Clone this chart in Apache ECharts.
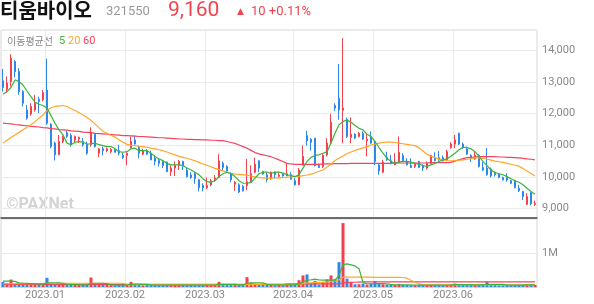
<!DOCTYPE html>
<html><head><meta charset="utf-8">
<script src="https://cdn.jsdelivr.net/npm/echarts@6/dist/echarts.min.js"></script>
<style>html,body{margin:0;padding:0;background:#fff}#c{width:594px;height:304px}</style>
</head><body><div id="c"></div>
<script>
// trading days per month
const dec = [15,16,19,20,21,22,23,26,27,28,29];
const jan = [2,3,4,5,6,9,10,11,12,13,16,17,18,19,20,25,26,27,30,31];
const feb = [1,2,3,6,7,8,9,10,13,14,15,16,17,20,21,22,23,24,27,28];
const mar = [2,3,6,7,8,9,10,13,14,15,16,17,20,21,22,23,24,27,28,29,30,31];
const apr = [3,4,5,6,7,10,11,12,13,14,17,18,19,20,21,24,25,26,27,28];
const may = [2,3,4,8,9,10,11,12,15,16,17,18,19,22,23,24,25,26,30,31];
const jun = [1,2,5,7,8,9,12,13,14,15,16,19,20,21,22,23,26,27,28,29,30];
const monthNames = ['2022.12','2023.01','2023.02','2023.03','2023.04','2023.05','2023.06'];

// [open, close, low, high]
const ohlc = [
[13040,12830,12700,13420],[12770,12970,12660,13180],[13020,13760,12860,13880],[13650,13330,13150,13700],[13340,12700,12600,13440],
[12700,12330,12230,12750],[12120,11860,11810,12280],[11990,12230,11940,12330],[12120,12330,12070,12600],[12460,12390,12020,12540],
[12440,12670,12390,12750],[12750,11700,11650,13740],[11670,10960,10910,11700],[11070,10700,10520,11120],[10700,11120,10700,11330],
[11120,11250,11070,11310],[11400,11280,11230,11460],[11310,11020,10960,11380],[11170,11280,11070,11310],[11200,11250,11070,11280],
[11120,11020,10960,11230],[11040,10750,10700,11120],[11020,11420,10960,11570],[11350,10960,10930,11380],[10750,10890,10620,10910],
[10890,10830,10680,10960],[10830,10890,10780,10930],[10800,10870,10750,10910],[10860,10780,10780,10890],[10830,10750,10680,11020],
[10680,10610,10570,10780],[10680,10750,10370,10780],[10930,11120,10890,11280],[11170,11040,11020,11310],[10930,10750,10590,10990],
[10720,10830,10690,10890],[10830,10720,10700,10880],[10750,10540,10530,10830],[10590,10490,10370,10680],[10520,10430,10330,10590],
[10490,10360,10280,10540],[10470,10170,10150,10490],[10170,10280,10030,10370],[10280,10370,10030,10490],[10370,10490,10220,10540],
[10490,10350,10220,10510],[10220,10010,9980,10280],[10060,9980,9940,10150],[10100,9940,9780,10150],[9910,9660,9540,9940],
[9730,9660,9540,9800],[9660,9730,9620,9980],[9750,9880,9710,9940],[9910,9960,9850,10060],[9980,10510,9960,10720],
[10430,10300,10190,10490],[10330,10190,10150,10370],[10100,9910,9830,10150],[9770,9830,9560,9870],[9750,9520,9490,9800],
[9700,9560,9540,9750],[9730,9850,9580,10570],[9850,10100,9830,10370],[10150,10400,10120,10610],[10510,10280,10150,10530],
[10170,10090,10070,10190],[10070,9910,9830,10140],[9960,10150,9910,10170],[10150,10070,9940,10170],[10020,10060,9980,10150],
[10090,10030,10010,10120],[10030,10100,10030,10430],[10070,9930,9910,10150],[9880,9750,9730,9960],[9750,10220,9750,10280],
[10370,10650,10360,10990],[11310,11140,10990,11460],[11190,11100,10830,11230],[11230,10360,10330,11230],[10360,10300,10280,10430],
[10330,10680,10280,10720],[10700,11070,10650,11230],[11070,11730,11040,11990],[12260,12180,12090,12330],[12490,12120,11810,13570],
[12110,12180,11070,14390],[11820,11280,11230,11880],[11250,11350,11070,11880],[11350,11230,11200,11380],[11280,11380,11250,11420],
[11380,11200,11170,11440],[11140,11190,10650,11380],[11280,11070,11040,11440],[11120,10490,10370,11140],[10380,10190,10070,10430],
[10150,10470,10120,10540],[10610,10540,10510,10800],[10510,10430,10400,10700],[10380,10470,10380,10750],[10470,10780,10430,11280],
[10680,10520,10490,10750],[10490,10380,10360,10590],[10360,10300,10280,10590],[10330,10400,10280,10430],[10490,10300,10280,10510],
[10360,10280,10190,10400],[10280,10430,10230,10490],[10430,10680,10400,10700],[10590,10510,10490,10780],[10610,10540,10510,10820],
[10610,10510,10490,10680],[10540,10800,10510,10860],[10930,11040,10890,11100],[11040,11170,10910,11330],[11380,11040,11010,11400],
[11040,10930,10890,11090],[10890,10720,10700,10960],[10680,10590,10470,10720],[10570,10680,10540,10800],[10680,10330,10300,10720],
[10300,10220,10190,10470],[10280,10070,10040,10910],[10250,10030,9980,10300],[10150,10070,10010,10170],[10090,9980,9960,10120],
[9980,9910,9880,10010],[9980,9900,9850,10120],[9880,9800,9770,9910],[9890,9660,9640,9910],[9640,9560,9520,9750],
[9540,9380,9270,9560],[9130,9380,9120,9490],[9500,9150,9100,9530],[9130,9160,9080,9250]
];

const ma5 = [12620,12700,12830,13070,13020,12910,12720,12540,12370,12300,
12260,12180,11940,11700,11490,11330,11070,11020,11100,11120,
11100,11040,11050,11070,11020,10990,10960,10960,10890,10800,
10780,10800,10890,10910,10830,10830,10830,10750,10650,10570,
10510,10430,10380,10380,10380,10360,10280,10220,10150,10070,
9940,9850,9830,9880,10010,10100,10150,10100,10010,9880,
9800,9800,9830,9960,10100,10150,10150,10110,10150,10150,
10120,10070,10040,10010,10070,10280,10490,10620,10680,10700,
10750,10800,11070,11380,11650,11750,11810,11730,11630,11540,
11490,11350,11280,11120,10930,10750,10590,10490,10430,10470,
10490,10490,10470,10430,10400,10360,10330,10380,10430,10490,
10540,10570,10660,10750,10860,10940,10930,10890,10800,10650,
10490,10360,10220,10140,10100,10070,10010,9940,9880,9830,
9750,9640,9540,9450];

const ma20 = [11070,11160,11250,11330,11410,11490,11570,11650,11750,11860,
11960,12100,12190,12230,12250,12260,12230,12160,12100,12030,
11960,11880,11790,11680,11560,11440,11380,11310,11260,11180,
11100,11030,11000,10990,10970,10960,10940,10910,10890,10860,
10830,10790,10740,10700,10650,10620,10590,10550,10510,10460,
10410,10370,10320,10270,10230,10190,10150,10110,10090,10080,
10070,10060,10030,10000,9980,9970,9960,9960,9970,9970,
9980,9990,10000,10010,10020,10040,10060,10090,10130,10180,
10220,10310,10410,10520,10590,10660,10740,10790,10840,10880,
10920,10960,11010,11040,11070,11090,11100,11100,11090,11070,
11050,11030,11010,10990,10920,10820,10720,10650,10610,10570,
10540,10520,10510,10520,10530,10540,10560,10580,10600,10600,
10590,10560,10530,10500,10480,10460,10430,10400,10370,10340,
10270,10190,10110,10030];

const ma60 = [11700,11690,11680,11660,11650,11630,11620,11600,11590,11580,
11560,11550,11530,11520,11500,11490,11480,11460,11450,11440,
11420,11410,11400,11380,11370,11360,11350,11340,11330,11320,
11310,11310,11300,11290,11280,11280,11270,11260,11250,11240,
11240,11230,11220,11210,11200,11200,11190,11190,11180,11180,
11170,11170,11160,11160,11150,11150,11120,11090,11060,11010,
10960,10910,10840,10770,10730,10700,10670,10640,10590,10540,
10490,10430,10410,10400,10400,10400,10400,10400,10400,10400,
10410,10410,10410,10420,10420,10420,10420,10430,10430,10430,
10430,10430,10430,10430,10430,10430,10430,10430,10440,10440,
10440,10440,10440,10440,10440,10440,10440,10450,10450,10450,
10450,10450,10460,10500,10540,10580,10610,10620,10630,10640,
10640,10640,10640,10640,10630,10630,10620,10620,10610,10600,
10590,10570,10560,10540];

// volume in thousands of shares
const vol = [150,70,220,90,80,70,70,70,60,60,
60,270,110,90,80,70,60,70,60,60,
60,70,280,100,60,60,60,60,50,60,
60,70,150,80,70,50,60,60,60,50,
60,70,60,60,60,60,70,60,50,70,
60,60,50,60,150,70,60,70,60,70,
60,290,120,100,70,60,60,70,50,60,
50,90,70,70,200,340,370,100,180,70,
150,225,340,230,730,1880,245,150,80,80,
100,70,100,170,90,80,70,60,60,90,
70,60,50,50,60,50,60,70,60,60,
50,70,80,100,70,60,60,60,60,70,
60,150,70,60,50,50,60,50,60,60,
70,80,70,60];

const vma5 = [170,170,170,165,120,110,105,100,95,90,
85,120,125,125,120,110,80,75,70,65,
65,65,110,110,110,105,100,60,55,55,
55,55,80,85,85,80,75,60,55,55,
55,55,55,55,55,55,55,55,55,55,
55,55,55,55,75,75,75,75,75,60,
60,110,120,125,125,120,80,65,60,60,
55,60,65,70,90,150,200,210,230,210,
200,200,200,200,340,660,680,650,620,540,
130,100,95,100,100,100,90,75,65,60,
60,60,60,55,55,55,55,55,55,55,
55,55,60,70,70,70,70,70,60,60,
60,75,75,75,75,75,55,55,55,55,
55,60,60,60];

const vma20 = [100,100,100,100,100,100,100,100,100,100,
100,110,110,110,110,110,110,110,110,110,
110,110,110,110,110,110,110,110,110,110,
110,70,70,70,70,70,70,70,70,70,
70,70,70,70,70,70,70,70,70,70,
70,70,70,70,70,70,70,70,70,70,
70,80,80,80,80,80,80,80,80,80,
80,80,80,80,80,100,120,125,135,135,
140,150,165,175,210,290,290,290,290,290,
290,290,290,285,285,285,285,285,285,285,
280,260,200,140,90,65,65,65,65,65,
65,65,65,65,65,65,65,65,65,65,
65,65,65,65,65,65,65,65,65,65,
65,65,65,65];

const vma60 = [80,80,80,80,80,80,80,80,80,80,
80,80,80,80,80,80,80,80,80,80,
80,80,80,80,80,80,80,80,80,80,
80,80,80,80,80,80,80,80,80,80,
80,80,80,80,80,80,80,80,80,80,
80,80,80,80,80,80,80,80,80,80,
80,80,80,80,80,80,80,80,80,80,
80,90,90,90,90,90,90,90,90,90,
90,90,90,90,90,125,130,135,140,145,
150,150,150,150,150,150,150,150,150,150,
150,150,150,150,150,150,150,150,150,150,
150,150,150,150,150,150,150,150,150,150,
150,150,150,150,150,150,150,150,150,150,
150,150,150,150];

const priceTicks = [9000,10000,11000,12000,13000,14000];

// build categories
const dates = [];
const monthStart = [];
[dec,jan,feb,mar,apr,may,jun].forEach((days, k) => {
  days.forEach((d, j) => {
    if (j === 0 && k > 0) monthStart.push(dates.length);
    dates.push(monthNames[k] + '.' + String(d).padStart(2, '0'));
  });
});

const RED = '#f2414e', BLUE = '#2e88e8';
const C5 = '#3cb43c', C20 = '#ffa62b', C60 = '#f2445c';
const FONT = 'Roboto, "Noto Sans", sans-serif';
const isStart = (idx) => monthStart.indexOf(idx) >= 0;

const volData = vol.map((v, i) => ({
  value: v,
  itemStyle: { color: ohlc[i][1] >= ohlc[i][0] ? RED : BLUE }
}));

const chart = echarts.init(document.getElementById('c'), null, { renderer: 'canvas' });
chart.setOption({
  animation: false,
  backgroundColor: '#fff',
  grid: [
    { left: 1, top: 30, width: 536, height: 188, show: true, borderColor: '#d6d6d6', borderWidth: 1 },
    { left: 1, top: 219, width: 536, height: 68, show: true, borderColor: '#d6d6d6', borderWidth: 1 }
  ],
  xAxis: [
    { type: 'category', gridIndex: 0, data: dates, boundaryGap: true,
      axisLine: { show: true, lineStyle: { color: '#444', width: 1.5 } },
      axisTick: { show: false }, axisLabel: { show: false },
      splitLine: { show: true, interval: (i) => isStart(i), lineStyle: { color: '#ebebeb', width: 1 } } },
    { type: 'category', gridIndex: 1, data: dates, boundaryGap: true,
      axisLine: { show: true, lineStyle: { color: '#d6d6d6', width: 1 } },
      axisTick: { show: false },
      axisLabel: { show: true, interval: (i) => isStart(i), formatter: (v) => v.slice(0, 7),
        color: '#888', fontSize: 11, fontFamily: FONT, margin: 3, padding: [0, 4, 0, 0] },
      splitLine: { show: true, interval: (i) => isStart(i), lineStyle: { color: '#ebebeb', width: 1 } } }
  ],
  yAxis: [
    { type: 'value', gridIndex: 0, position: 'right', min: 8700, max: 14650, scale: true,
      axisLine: { show: false }, axisTick: { show: false },
      axisLabel: { color: '#888', fontSize: 11, fontFamily: FONT, margin: 5,
        formatter: (v) => priceTicks.indexOf(v) >= 0 ? v.toLocaleString('en-US') : '' },
      splitLine: { show: true, lineStyle: { color: '#ebebeb', width: 1 } } },
    { type: 'value', gridIndex: 1, position: 'right', min: 0, max: 2000, interval: 1000,
      axisLine: { show: false }, axisTick: { show: false },
      axisLabel: { color: '#888', fontSize: 11, fontFamily: FONT, margin: 5,
        formatter: (v) => v === 1000 ? '1M' : '' },
      splitLine: { show: true, lineStyle: { color: '#ebebeb', width: 1 } } }
  ],
  series: [
    { type: 'candlestick', xAxisIndex: 0, yAxisIndex: 0, data: ohlc, barWidth: 2,
      itemStyle: { color: RED, color0: BLUE, borderColor: RED, borderColor0: BLUE, borderWidth: 1 } },
    { type: 'line', xAxisIndex: 0, yAxisIndex: 0, data: ma60, symbol: 'none', lineStyle: { color: C60, width: 1.2 } },
    { type: 'line', xAxisIndex: 0, yAxisIndex: 0, data: ma20, symbol: 'none', lineStyle: { color: C20, width: 1.2 } },
    { type: 'line', xAxisIndex: 0, yAxisIndex: 0, data: ma5, symbol: 'none', lineStyle: { color: C5, width: 1.2 } },
    { type: 'bar', xAxisIndex: 1, yAxisIndex: 1, data: volData, barWidth: 3 },
    { type: 'line', xAxisIndex: 1, yAxisIndex: 1, data: vma60, symbol: 'none', lineStyle: { color: C60, width: 1.2 } },
    { type: 'line', xAxisIndex: 1, yAxisIndex: 1, data: vma20, symbol: 'none', lineStyle: { color: C20, width: 1.2 } },
    { type: 'line', xAxisIndex: 1, yAxisIndex: 1, data: vma5, symbol: 'none', lineStyle: { color: C5, width: 1.2 } }
  ],
  graphic: [
    { type: 'text', x: 0, y: 10, style: { text: '티움바이오', font: 'bold 20px "Noto Sans CJK KR"', fill: '#111', textVerticalAlign: 'middle' } },
    { type: 'text', x: 106, y: 12, style: { text: '321550', font: '13px ' + FONT, fill: '#999', textVerticalAlign: 'middle' } },
    { type: 'text', x: 168, y: 11, style: { text: '9,160', font: '21px ' + FONT, fill: '#f2444f', textVerticalAlign: 'middle' } },
    { type: 'text', x: 237, y: 12, style: { text: '▲', font: '9px "DejaVu Sans"', fill: '#f2444f', textVerticalAlign: 'middle' } },
    { type: 'text', x: 251, y: 12, style: { text: '10 +0.11%', font: '13px ' + FONT, fill: '#f2444f', textVerticalAlign: 'middle' } },
    { type: 'text', x: 7, y: 41, style: { text: '이동평균선', font: '10px "Noto Sans CJK KR"', fill: '#888', textVerticalAlign: 'middle' } },
    { type: 'text', x: 59, y: 41, style: { text: '5', font: '11px ' + FONT, fill: C5, textVerticalAlign: 'middle' } },
    { type: 'text', x: 68, y: 41, style: { text: '20', font: '11px ' + FONT, fill: C20, textVerticalAlign: 'middle' } },
    { type: 'text', x: 83, y: 41, style: { text: '60', font: '11px ' + FONT, fill: C60, textVerticalAlign: 'middle' } },
    { type: 'text', x: 6, y: 205, z: -1, style: { text: '©PAXNet', font: 'bold 16px ' + FONT, fill: '#d3d3d3', textVerticalAlign: 'middle' } }
  ]
});
</script></body></html>
